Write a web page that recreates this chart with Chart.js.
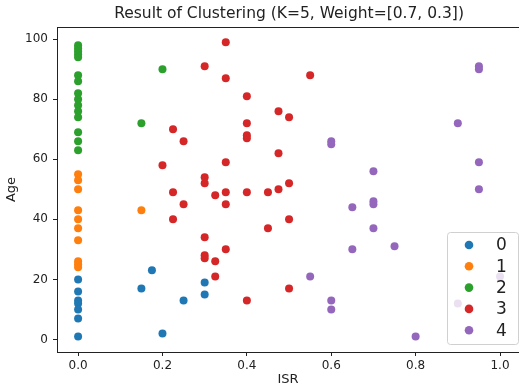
<!DOCTYPE html>
<html>
<head>
<meta charset="utf-8">
<script src="https://cdn.jsdelivr.net/npm/chart.js@4/dist/chart.umd.min.js"></script>
<style>
  html, body { margin: 0; padding: 0; background: #fff; overflow: hidden; }
</style>
</head>
<body>
<canvas id="myChart" width="519" height="388"></canvas>
<script>
// data, one pair of arrays per cluster
const clusterNames = ["0", "1", "2", "3", "4"];
const clusterColors = ["#1f77b4", "#ff7f0e", "#2ca02c", "#d62728", "#9467bd"];

const isr0 = [0, 0, 0, 0, 0, 0, 0, 0.15, 0.175, 0.2, 0.25, 0.3, 0.3];
const age0 = [20, 16, 13, 12, 10, 7, 1, 17, 23, 2, 13, 19, 15];

const isr1 = [0, 0, 0, 0, 0, 0, 0, 0, 0, 0, 0.15];
const age1 = [55, 53, 50, 43, 40, 37, 33, 26, 25, 24, 43];

const isr2 = [0, 0, 0, 0, 0, 0, 0, 0, 0, 0, 0, 0, 0, 0, 0, 0.15, 0.2];
const age2 = [98, 97, 96, 95, 94, 88, 86, 82, 80, 78, 76, 74, 69, 66, 63, 72, 90];

const isr3 = [0.35, 0.3, 0.35, 0.4, 0.55, 0.475, 0.5, 0.4, 0.225, 0.4, 0.4, 0.25, 0.475, 0.2, 0.35,
  0.3, 0.3, 0.225, 0.325, 0.35, 0.4, 0.45, 0.475, 0.5, 0.25, 0.35, 0.225, 0.5, 0.45, 0.3,
  0.35, 0.3, 0.3, 0.325, 0.325, 0.4, 0.5];
const age3 = [99, 91, 87, 81, 88, 76, 74, 72, 70, 68, 67, 66, 62, 58, 59,
  54, 52, 49, 48, 49, 49, 49, 50, 52, 45, 45, 40, 40, 37, 34,
  30, 28, 27, 26, 21, 13, 17];

const isr4 = [0.6, 0.6, 0.7, 0.65, 0.7, 0.7, 0.7, 0.75, 0.65, 0.55, 0.6, 0.6, 0.95, 0.95, 0.9,
  0.95, 0.95, 0.8, 0.9, 1.0];
const age4 = [66, 65, 56, 44, 46, 45, 37, 31, 30, 21, 13, 10, 91, 90, 72,
  59, 50, 1, 12, 21];

const xTicks = [0, 0.2, 0.4, 0.6, 0.8, 1.0];
const yTicks = [0, 20, 40, 60, 80, 100];

const titleText = "Result of Clustering (K=5, Weight=[0.7, 0.3])";
const xLabel = "ISR";
const yLabel = "Age";

const allX = [isr0, isr1, isr2, isr3, isr4];
const allY = [age0, age1, age2, age3, age4];

const ink = "#222";

let datasets = clusterNames.map(function(name, i) {
  return {
    label: name,
    data: allX[i].map(function(x, j) { return { x: x, y: allY[i][j] }; }),
    backgroundColor: clusterColors[i],
    borderColor: clusterColors[i],
    pointRadius: 4,
    pointBorderWidth: 0,
    order: 4 - i
  };
});

// title, top spine and the legend box (matplotlib style)
const framePlugin = {
  id: "frame",
  afterDraw: function(chart) {
    const ctx = chart.ctx;
    const a = chart.chartArea;
    ctx.save();

    ctx.strokeStyle = ink;
    ctx.lineWidth = 1;
    ctx.beginPath();
    ctx.moveTo(a.left, a.top + 0.5);
    ctx.lineTo(chart.width, a.top + 0.5);
    ctx.stroke();

    // matplotlib centres the title over the axes, which run past the right edge
    const x1 = chart.scales.x.getPixelForValue(1.05);
    ctx.fillStyle = ink;
    ctx.font = "15.5px 'DejaVu Sans'";
    ctx.textAlign = "center";
    ctx.textBaseline = "middle";
    ctx.fillText(titleText, (a.left + x1) / 2, 13.5);

    // legend
    const boxW = 71, boxH = 112;
    const bx = 447;
    const by = a.bottom - 8 - boxH;
    ctx.beginPath();
    ctx.roundRect(bx + 0.5, by + 0.5, boxW, boxH, 3);
    ctx.fillStyle = "rgba(255,255,255,0.8)";
    ctx.fill();
    ctx.strokeStyle = "#d0d0d0";
    ctx.stroke();

    ctx.font = "17px 'DejaVu Sans'";
    ctx.textAlign = "left";
    for (let i = 0; i < clusterNames.length; i++) {
      const ry = by + 13 + i * 21.3;
      ctx.beginPath();
      ctx.arc(bx + 22, ry, 4.3, 0, Math.PI * 2);
      ctx.fillStyle = clusterColors[i];
      ctx.fill();
      ctx.fillStyle = ink;
      ctx.fillText(clusterNames[i], bx + 49, ry + 1);
    }
    ctx.restore();
  }
};

let myChart = document.getElementById("myChart").getContext("2d");

let chart = new Chart(myChart, {
  type: "scatter",
  data: { datasets: datasets },
  options: {
    responsive: false,
    animation: false,
    layout: { autoPadding: false, padding: { top: 27, right: 0, bottom: 0, left: 0 } },
    plugins: {
      legend: { display: false },
      tooltip: { enabled: false },
      title: { display: false }
    },
    scales: {
      x: {
        type: "linear",
        min: -0.05,
        max: 1.045,
        afterBuildTicks: function(scale) {
          scale.ticks = xTicks.map(function(v) { return { value: v }; });
        },
        afterFit: function(scale) {
          scale.height = 36;
          scale.paddingLeft = 0;
          scale.paddingRight = 0;
        },
        ticks: {
          color: ink,
          font: { family: "DejaVu Sans", size: 12 },
          padding: 3,
          maxRotation: 0,
          callback: function(v) { return Number(v).toFixed(1); }
        },
        grid: { display: true, drawOnChartArea: false, tickLength: 4, tickColor: ink },
        border: { display: true, color: ink, width: 1 },
        title: {
          display: true,
          text: xLabel,
          color: ink,
          font: { family: "DejaVu Sans", size: 13 },
          padding: { top: 0, bottom: 1 }
        }
      },
      y: {
        type: "linear",
        min: -4.2,
        max: 104.1,
        afterBuildTicks: function(scale) {
          scale.ticks = yTicks.map(function(v) { return { value: v }; });
        },
        afterFit: function(scale) { scale.width = 57; },
        ticks: {
          color: ink,
          font: { family: "DejaVu Sans", size: 12 },
          padding: 5
        },
        grid: { display: true, drawOnChartArea: false, tickLength: 4, tickColor: ink },
        border: { display: true, color: ink, width: 1 },
        title: {
          display: true,
          text: yLabel,
          color: ink,
          font: { family: "DejaVu Sans", size: 13 },
          padding: { top: 4, bottom: 0 }
        }
      }
    }
  },
  plugins: [framePlugin]
});
</script>
</body>
</html>
